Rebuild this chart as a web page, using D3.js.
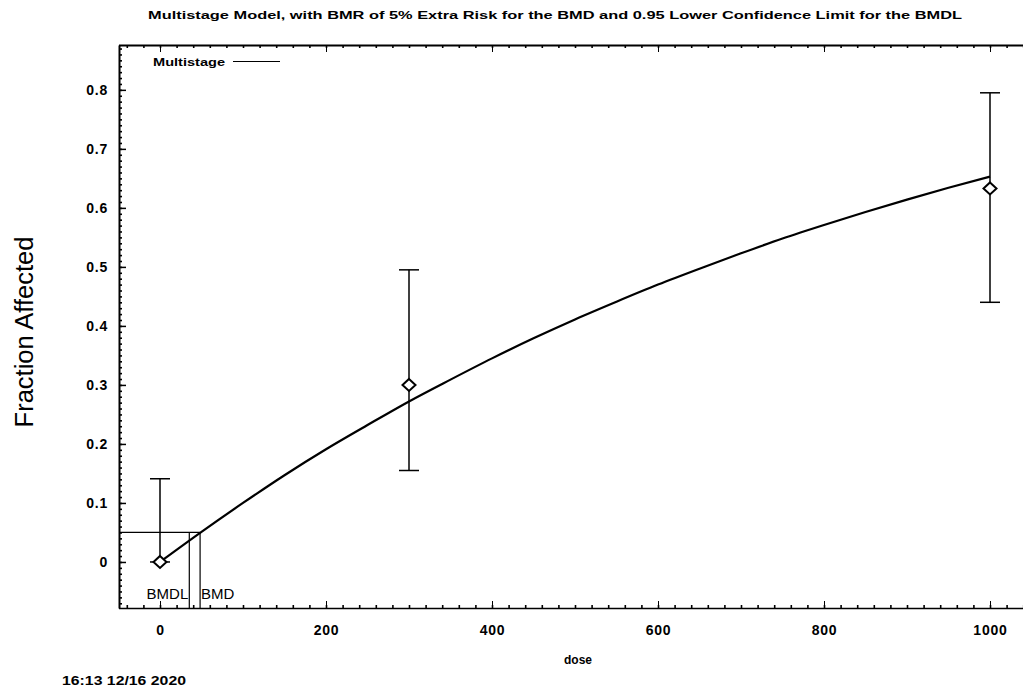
<!DOCTYPE html>
<html>
<head>
<meta charset="utf-8">
<script src="https://cdn.jsdelivr.net/npm/d3@7"></script>
<style>
  body { margin: 0; background: #fff; }
  svg { display: block; font-family: "Liberation Sans", Arial, sans-serif; }
  .axis path, .axis line { stroke: #000; }
  .axis text { font-size: 14px; font-weight: bold; fill: #000; letter-spacing: 0.8px; }
</style>
</head>
<body>
<svg id="svg" width="1023" height="688"></svg>
<script>
var doses = [0, 300, 1000];
var observed = [0, 0.30, 0.633];
var lowerCL = [0, 0.155, 0.44];
var upperCL = [0.141, 0.495, 0.795];

// fitted multistage curve
var curveDose = [0, 50, 100, 150, 200, 250, 300, 350, 400, 450, 500, 550, 600, 650, 700, 750, 800, 850, 900, 950, 1000];
var curveResp = [0, 0.051, 0.100, 0.147, 0.191, 0.232, 0.272, 0.309, 0.345, 0.379, 0.411, 0.441, 0.470, 0.497, 0.523, 0.548, 0.571, 0.593, 0.614, 0.634, 0.653];

// benchmark values
var bmr = 0.05;
var bmd = 48.3;
var bmdl = 35.3;

var xTicks = [0, 200, 400, 600, 800, 1000];
var yTicks = [0, 0.1, 0.2, 0.3, 0.4, 0.5, 0.6, 0.7, 0.8];
var xMinor = d3.range(-40, 1060, 20);
var yMinor = d3.range(-7, 88).map(d => d / 100);

var svg = d3.select("#svg");

var plotLeft = 119, plotRight = 1031.5, plotTop = 45, plotBottom = 608;

var x = d3.scaleLinear().domain([-50, 1050]).range([plotLeft - 0.5, plotRight]);
var y = d3.scaleLinear().domain([-0.078, 0.876]).range([plotBottom, plotTop]);

// title
svg.append("text")
  .attr("x", 555)
  .attr("y", 19)
  .attr("text-anchor", "middle")
  .attr("textLength", 814)
  .attr("lengthAdjust", "spacingAndGlyphs")
  .style("font-size", "11.5px")
  .style("font-weight", "bold")
  .text("Multistage Model, with BMR of 5% Extra Risk for the BMD and 0.95 Lower Confidence Limit for the BMDL");

// minor ticks first, then the major axes on top
svg.append("g")
  .attr("class", "axis")
  .attr("transform", `translate(${plotLeft}, 0)`)
  .call(d3.axisLeft(y).tickValues(yMinor).tickSize(-3).tickSizeOuter(0).tickFormat(""))
  .call(g => g.select(".domain").remove())
  .call(g => g.selectAll(".tick line").attr("stroke-width", 1.6));

svg.append("g")
  .attr("class", "axis")
  .attr("transform", `translate(0, ${plotBottom})`)
  .call(d3.axisBottom(x).tickValues(xMinor).tickSize(-3).tickSizeOuter(0).tickFormat(""))
  .call(g => g.select(".domain").remove())
  .call(g => g.selectAll(".tick line").attr("stroke-width", 1.6));

svg.append("g")
  .attr("class", "axis")
  .attr("transform", `translate(0, ${plotTop})`)
  .call(d3.axisTop(x).tickValues(xMinor).tickSize(-3).tickSizeOuter(0).tickFormat(""))
  .call(g => g.select(".domain").remove())
  .call(g => g.selectAll(".tick line").attr("stroke-width", 1.6));

var yAxis = svg.append("g")
  .attr("class", "axis")
  .attr("transform", `translate(${plotLeft}, 0)`)
  .call(d3.axisLeft(y).tickValues(yTicks).tickSize(-7).tickSizeOuter(0).tickPadding(11)
    .tickFormat(d => d === 0 ? "0" : d3.format(".1f")(d)));
yAxis.select(".domain").attr("stroke-width", 2);
yAxis.selectAll(".tick line").attr("stroke-width", 1.5);

var xAxis = svg.append("g")
  .attr("class", "axis")
  .attr("transform", `translate(0, ${plotBottom})`)
  .call(d3.axisBottom(x).tickValues(xTicks).tickSize(-7).tickSizeOuter(0).tickPadding(17).tickFormat(d3.format("d")));
xAxis.select(".domain").attr("stroke-width", 1.5);

var topAxis = svg.append("g")
  .attr("class", "axis")
  .attr("transform", `translate(0, ${plotTop})`)
  .call(d3.axisTop(x).tickValues(xTicks).tickSize(-7).tickSizeOuter(0).tickFormat(""));
topAxis.select(".domain").attr("stroke-width", 2);

// axis titles
svg.append("text")
  .attr("transform", "translate(33, 332) rotate(-90)")
  .attr("text-anchor", "middle")
  .style("font-size", "25.5px")
  .text("Fraction Affected");

svg.append("text")
  .attr("x", 578)
  .attr("y", 664)
  .attr("text-anchor", "middle")
  .style("font-size", "12px")
  .style("font-weight", "bold")
  .text("dose");

svg.append("text")
  .attr("x", 62)
  .attr("y", 685)
  .attr("textLength", 124)
  .attr("lengthAdjust", "spacingAndGlyphs")
  .style("font-size", "12.5px")
  .style("font-weight", "bold")
  .text("16:13 12/16 2020");

// legend
svg.append("text")
  .attr("x", 153)
  .attr("y", 66)
  .attr("textLength", 72)
  .attr("lengthAdjust", "spacingAndGlyphs")
  .style("font-size", "11.5px")
  .style("font-weight", "bold")
  .text("Multistage");
svg.append("line")
  .attr("x1", 233).attr("x2", 280)
  .attr("y1", 61.5).attr("y2", 61.5)
  .attr("stroke", "#000")
  .attr("stroke-width", 1.2);

// BMD / BMDL markers
var bmdG = svg.append("g").attr("stroke", "#000").attr("stroke-width", 1.2);
bmdG.append("line")
  .attr("x1", plotLeft).attr("x2", x(bmd))
  .attr("y1", y(bmr)).attr("y2", y(bmr));
bmdG.append("line")
  .attr("x1", x(bmd)).attr("x2", x(bmd))
  .attr("y1", y(bmr)).attr("y2", plotBottom);
bmdG.append("line")
  .attr("x1", x(bmdl)).attr("x2", x(bmdl))
  .attr("y1", y(bmr)).attr("y2", plotBottom);

svg.append("text")
  .attr("x", x(bmdl) - 1)
  .attr("y", 599)
  .attr("text-anchor", "end")
  .style("font-size", "15px")
  .text("BMDL");
svg.append("text")
  .attr("x", x(bmd) + 1)
  .attr("y", 599)
  .style("font-size", "15px")
  .text("BMD");

// fitted curve
var line = d3.line()
  .x((d, i) => x(curveDose[i]))
  .y(d => y(d))
  .curve(d3.curveMonotoneX);

svg.append("path")
  .datum(curveResp)
  .attr("d", line)
  .attr("fill", "none")
  .attr("stroke", "#000")
  .attr("stroke-width", 2.2);

// error bars
var capHalf = 10;
var bars = svg.append("g").attr("stroke", "#000").attr("stroke-width", 1.5);
doses.forEach(function (d, i) {
  bars.append("line")
    .attr("x1", x(d)).attr("x2", x(d))
    .attr("y1", y(lowerCL[i])).attr("y2", y(upperCL[i]));
  bars.append("line")
    .attr("x1", x(d) - capHalf).attr("x2", x(d) + capHalf)
    .attr("y1", y(upperCL[i])).attr("y2", y(upperCL[i]));
  bars.append("line")
    .attr("x1", x(d) - capHalf).attr("x2", x(d) + capHalf)
    .attr("y1", y(lowerCL[i])).attr("y2", y(lowerCL[i]));
});

// observed points as hollow diamonds
svg.selectAll(".obs")
  .data(doses)
  .enter()
  .append("path")
  .attr("class", "obs")
  .attr("transform", (d, i) => `translate(${x(d)}, ${y(observed[i])})`)
  .attr("d", "M0,-6L6.5,0L0,6L-6.5,0Z")
  .attr("fill", "#fff")
  .attr("stroke", "#000")
  .attr("stroke-width", 2);
</script>
</body>
</html>
